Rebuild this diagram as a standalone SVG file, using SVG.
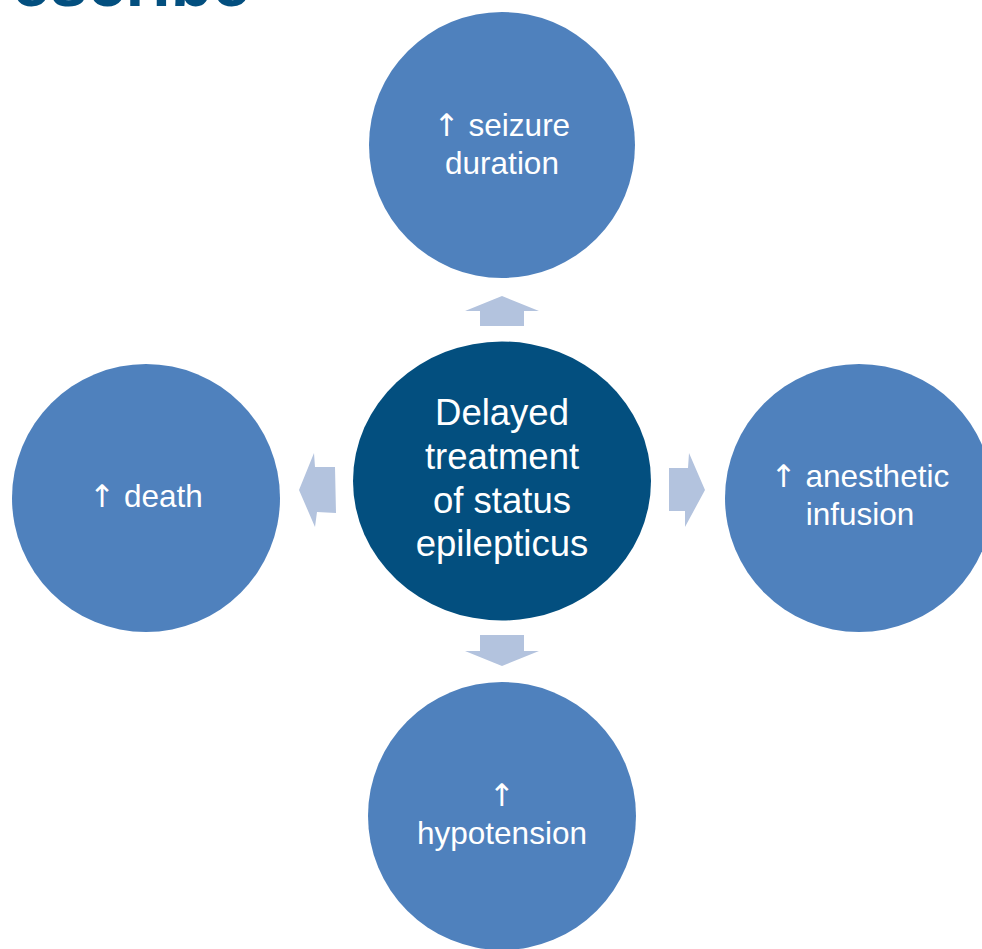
<svg xmlns="http://www.w3.org/2000/svg" width="982" height="949" viewBox="0 0 982 949">
<style>
.outer{fill:#4f81bd}
.center{fill:#034f7f}
.arrow{fill:#b3c3de}
.t{font-family:"Liberation Sans",Arial,sans-serif;fill:#ffffff;text-anchor:middle}
.s{font-size:31.5px}
.c{font-size:36.5px}
.up{font-family:"DejaVu Sans",sans-serif;font-size:31px}
.title{font-family:"Liberation Sans",Arial,sans-serif;font-weight:bold;font-size:68px;fill:#034f7f}
</style>
<rect width="982" height="949" fill="#ffffff"/>
<text class="title" x="12" y="6">escribe</text>
<g id="connectors">
<polygon class="arrow" points="502,296 539,311 524,311 524,326 480,326 480,311 465,311"/>
<polygon class="arrow" points="480,635 524,635 524,651 539,651 502,666 465,651 480,651"/>
<polygon class="arrow" points="299,490 314,453 315,467 335,467 336,513 317,512 315,527"/>
<polygon class="arrow" points="705,490 685,527 685,511 669,511 669,468 688,468 689,453"/>
</g>
<g id="node-top">
<circle class="outer" cx="502" cy="145" r="133"/>
<text class="t s" x="502" y="136"><tspan class="up">↑</tspan> seizure</text>
<text class="t s" x="502" y="174">duration</text>
</g>
<g id="node-center">
<ellipse class="center" cx="502" cy="481" rx="149" ry="139.5"/>
<text class="t c" x="502" y="425">Delayed</text>
<text class="t c" x="502" y="469">treatment</text>
<text class="t c" x="502" y="513">of status</text>
<text class="t c" x="502" y="556">epilepticus</text>
</g>
<g id="node-left">
<circle class="outer" cx="146" cy="498" r="134"/>
<text class="t s" x="146" y="507"><tspan class="up">↑</tspan> death</text>
</g>
<g id="node-right">
<circle class="outer" cx="859" cy="498" r="134"/>
<text class="t s" x="860" y="487"><tspan class="up">↑</tspan> anesthetic</text>
<text class="t s" x="860" y="525">infusion</text>
</g>
<g id="node-bottom">
<circle class="outer" cx="502" cy="816" r="134"/>
<text class="t s" x="502" y="806"><tspan class="up">↑</tspan></text>
<text class="t s" x="502" y="844">hypotension</text>
</g>
</svg>
